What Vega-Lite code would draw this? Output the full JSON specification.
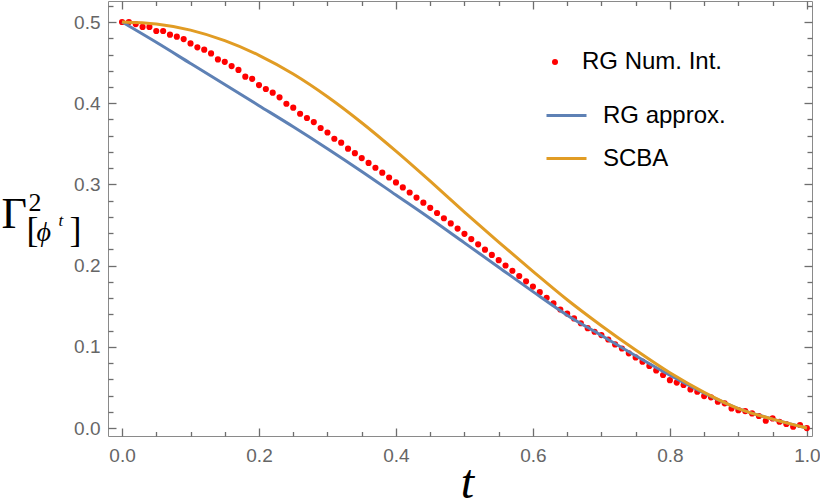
{
  "$schema": "https://vega.github.io/schema/vega-lite/v6.json",
  "width": 704,
  "height": 435,
  "autosize": {"type": "none"},
  "padding": {"left": 108, "top": 1, "right": 8, "bottom": 67},
  "background": "white",
  "config": {
    "view": {"stroke": "#8a8a8a", "strokeWidth": 1},
    "axis": {
      "domain": false,
      "grid": false,
      "ticks": true,
      "tickColor": "#6e6e6e",
      "tickWidth": 1.3,
      "tickOpacity": 1,
      "labelColor": "#666666",
      "labelFont": "Liberation Sans",
      "labelFontSize": 19,
      "titleColor": "black",
      "titleFont": "Liberation Serif",
      "titleFontWeight": "normal",
      "titleAngle": 0,
      "titleAlign": "left",
      "titleBaseline": "alphabetic",
      "zindex": 1
    },
    "legend": {
      "orient": "none",
      "title": null,
      "padding": 0,
      "labelFont": "Liberation Sans",
      "labelFontSize": 24,
      "labelColor": "black",
      "labelLimit": 300
    }
  },
  "datasets": {
    "numint": [
      {"s": "RG Num. Int.", "t": 0.00, "v": 0.5},
      {"s": "RG Num. Int.", "t": 0.01, "v": 0.5},
      {"s": "RG Num. Int.", "t": 0.02, "v": 0.4975},
      {"s": "RG Num. Int.", "t": 0.03, "v": 0.494},
      {"s": "RG Num. Int.", "t": 0.04, "v": 0.494},
      {"s": "RG Num. Int.", "t": 0.05, "v": 0.489},
      {"s": "RG Num. Int.", "t": 0.06, "v": 0.489},
      {"s": "RG Num. Int.", "t": 0.07, "v": 0.4844},
      {"s": "RG Num. Int.", "t": 0.08, "v": 0.482},
      {"s": "RG Num. Int.", "t": 0.09, "v": 0.479},
      {"s": "RG Num. Int.", "t": 0.10, "v": 0.4737},
      {"s": "RG Num. Int.", "t": 0.11, "v": 0.4688},
      {"s": "RG Num. Int.", "t": 0.12, "v": 0.466},
      {"s": "RG Num. Int.", "t": 0.13, "v": 0.4614},
      {"s": "RG Num. Int.", "t": 0.14, "v": 0.454},
      {"s": "RG Num. Int.", "t": 0.15, "v": 0.451},
      {"s": "RG Num. Int.", "t": 0.16, "v": 0.4458},
      {"s": "RG Num. Int.", "t": 0.17, "v": 0.441},
      {"s": "RG Num. Int.", "t": 0.18, "v": 0.4327},
      {"s": "RG Num. Int.", "t": 0.19, "v": 0.430},
      {"s": "RG Num. Int.", "t": 0.20, "v": 0.4224},
      {"s": "RG Num. Int.", "t": 0.21, "v": 0.4175},
      {"s": "RG Num. Int.", "t": 0.22, "v": 0.413},
      {"s": "RG Num. Int.", "t": 0.23, "v": 0.4073},
      {"s": "RG Num. Int.", "t": 0.24, "v": 0.3994},
      {"s": "RG Num. Int.", "t": 0.25, "v": 0.3945},
      {"s": "RG Num. Int.", "t": 0.26, "v": 0.387},
      {"s": "RG Num. Int.", "t": 0.27, "v": 0.3818},
      {"s": "RG Num. Int.", "t": 0.28, "v": 0.3768},
      {"s": "RG Num. Int.", "t": 0.29, "v": 0.3695},
      {"s": "RG Num. Int.", "t": 0.30, "v": 0.364},
      {"s": "RG Num. Int.", "t": 0.31, "v": 0.3563},
      {"s": "RG Num. Int.", "t": 0.32, "v": 0.3514},
      {"s": "RG Num. Int.", "t": 0.33, "v": 0.344},
      {"s": "RG Num. Int.", "t": 0.34, "v": 0.3385},
      {"s": "RG Num. Int.", "t": 0.35, "v": 0.3325},
      {"s": "RG Num. Int.", "t": 0.36, "v": 0.3265},
      {"s": "RG Num. Int.", "t": 0.37, "v": 0.3205},
      {"s": "RG Num. Int.", "t": 0.38, "v": 0.3145},
      {"s": "RG Num. Int.", "t": 0.39, "v": 0.3085},
      {"s": "RG Num. Int.", "t": 0.40, "v": 0.3025},
      {"s": "RG Num. Int.", "t": 0.41, "v": 0.2963},
      {"s": "RG Num. Int.", "t": 0.42, "v": 0.2901},
      {"s": "RG Num. Int.", "t": 0.43, "v": 0.2838},
      {"s": "RG Num. Int.", "t": 0.44, "v": 0.2775},
      {"s": "RG Num. Int.", "t": 0.45, "v": 0.2712},
      {"s": "RG Num. Int.", "t": 0.46, "v": 0.2648},
      {"s": "RG Num. Int.", "t": 0.47, "v": 0.2584},
      {"s": "RG Num. Int.", "t": 0.48, "v": 0.252},
      {"s": "RG Num. Int.", "t": 0.49, "v": 0.2456},
      {"s": "RG Num. Int.", "t": 0.50, "v": 0.2392},
      {"s": "RG Num. Int.", "t": 0.51, "v": 0.2327},
      {"s": "RG Num. Int.", "t": 0.52, "v": 0.2262},
      {"s": "RG Num. Int.", "t": 0.53, "v": 0.2197},
      {"s": "RG Num. Int.", "t": 0.54, "v": 0.2132},
      {"s": "RG Num. Int.", "t": 0.55, "v": 0.2067},
      {"s": "RG Num. Int.", "t": 0.56, "v": 0.2002},
      {"s": "RG Num. Int.", "t": 0.57, "v": 0.1937},
      {"s": "RG Num. Int.", "t": 0.58, "v": 0.1872},
      {"s": "RG Num. Int.", "t": 0.59, "v": 0.1807},
      {"s": "RG Num. Int.", "t": 0.60, "v": 0.1742},
      {"s": "RG Num. Int.", "t": 0.61, "v": 0.1673},
      {"s": "RG Num. Int.", "t": 0.62, "v": 0.1604},
      {"s": "RG Num. Int.", "t": 0.63, "v": 0.1535},
      {"s": "RG Num. Int.", "t": 0.64, "v": 0.146},
      {"s": "RG Num. Int.", "t": 0.65, "v": 0.141},
      {"s": "RG Num. Int.", "t": 0.66, "v": 0.135},
      {"s": "RG Num. Int.", "t": 0.67, "v": 0.129},
      {"s": "RG Num. Int.", "t": 0.68, "v": 0.123},
      {"s": "RG Num. Int.", "t": 0.69, "v": 0.1186},
      {"s": "RG Num. Int.", "t": 0.70, "v": 0.1145},
      {"s": "RG Num. Int.", "t": 0.71, "v": 0.109},
      {"s": "RG Num. Int.", "t": 0.72, "v": 0.103},
      {"s": "RG Num. Int.", "t": 0.73, "v": 0.098},
      {"s": "RG Num. Int.", "t": 0.74, "v": 0.092},
      {"s": "RG Num. Int.", "t": 0.75, "v": 0.087},
      {"s": "RG Num. Int.", "t": 0.76, "v": 0.0817},
      {"s": "RG Num. Int.", "t": 0.77, "v": 0.0764},
      {"s": "RG Num. Int.", "t": 0.78, "v": 0.071},
      {"s": "RG Num. Int.", "t": 0.79, "v": 0.0653},
      {"s": "RG Num. Int.", "t": 0.80, "v": 0.059},
      {"s": "RG Num. Int.", "t": 0.81, "v": 0.056},
      {"s": "RG Num. Int.", "t": 0.82, "v": 0.053},
      {"s": "RG Num. Int.", "t": 0.83, "v": 0.0476},
      {"s": "RG Num. Int.", "t": 0.84, "v": 0.0447},
      {"s": "RG Num. Int.", "t": 0.85, "v": 0.0394},
      {"s": "RG Num. Int.", "t": 0.86, "v": 0.0378},
      {"s": "RG Num. Int.", "t": 0.87, "v": 0.0324},
      {"s": "RG Num. Int.", "t": 0.88, "v": 0.0304},
      {"s": "RG Num. Int.", "t": 0.89, "v": 0.0242},
      {"s": "RG Num. Int.", "t": 0.90, "v": 0.022},
      {"s": "RG Num. Int.", "t": 0.91, "v": 0.0209},
      {"s": "RG Num. Int.", "t": 0.92, "v": 0.018},
      {"s": "RG Num. Int.", "t": 0.93, "v": 0.0148},
      {"s": "RG Num. Int.", "t": 0.94, "v": 0.009},
      {"s": "RG Num. Int.", "t": 0.95, "v": 0.0119},
      {"s": "RG Num. Int.", "t": 0.96, "v": 0.0078},
      {"s": "RG Num. Int.", "t": 0.97, "v": 0.005},
      {"s": "RG Num. Int.", "t": 0.98, "v": 0.0016},
      {"s": "RG Num. Int.", "t": 0.99, "v": 0.0037},
      {"s": "RG Num. Int.", "t": 1.00, "v": 0.0}
    ],
    "curves": [
      {"s": "RG approx.", "t": 0.00, "v": 0.5},
      {"s": "RG approx.", "t": 0.05, "v": 0.475},
      {"s": "RG approx.", "t": 0.10, "v": 0.449},
      {"s": "RG approx.", "t": 0.15, "v": 0.423},
      {"s": "RG approx.", "t": 0.20, "v": 0.397},
      {"s": "RG approx.", "t": 0.25, "v": 0.371},
      {"s": "RG approx.", "t": 0.30, "v": 0.344},
      {"s": "RG approx.", "t": 0.35, "v": 0.316},
      {"s": "RG approx.", "t": 0.40, "v": 0.287},
      {"s": "RG approx.", "t": 0.45, "v": 0.258},
      {"s": "RG approx.", "t": 0.50, "v": 0.228},
      {"s": "RG approx.", "t": 0.55, "v": 0.198},
      {"s": "RG approx.", "t": 0.60, "v": 0.168},
      {"s": "RG approx.", "t": 0.65, "v": 0.139},
      {"s": "RG approx.", "t": 0.70, "v": 0.114},
      {"s": "RG approx.", "t": 0.75, "v": 0.089},
      {"s": "RG approx.", "t": 0.80, "v": 0.065},
      {"s": "RG approx.", "t": 0.85, "v": 0.043},
      {"s": "RG approx.", "t": 0.90, "v": 0.024},
      {"s": "RG approx.", "t": 0.95, "v": 0.011},
      {"s": "RG approx.", "t": 1.00, "v": 0.0},
      {"s": "SCBA", "t": 0.00, "v": 0.5},
      {"s": "SCBA", "t": 0.05, "v": 0.4975},
      {"s": "SCBA", "t": 0.10, "v": 0.490},
      {"s": "SCBA", "t": 0.15, "v": 0.477},
      {"s": "SCBA", "t": 0.20, "v": 0.459},
      {"s": "SCBA", "t": 0.25, "v": 0.436},
      {"s": "SCBA", "t": 0.30, "v": 0.408},
      {"s": "SCBA", "t": 0.35, "v": 0.376},
      {"s": "SCBA", "t": 0.40, "v": 0.341},
      {"s": "SCBA", "t": 0.45, "v": 0.304},
      {"s": "SCBA", "t": 0.50, "v": 0.266},
      {"s": "SCBA", "t": 0.55, "v": 0.229},
      {"s": "SCBA", "t": 0.60, "v": 0.193},
      {"s": "SCBA", "t": 0.65, "v": 0.158},
      {"s": "SCBA", "t": 0.70, "v": 0.126},
      {"s": "SCBA", "t": 0.75, "v": 0.096},
      {"s": "SCBA", "t": 0.80, "v": 0.068},
      {"s": "SCBA", "t": 0.85, "v": 0.044},
      {"s": "SCBA", "t": 0.90, "v": 0.024},
      {"s": "SCBA", "t": 0.95, "v": 0.011},
      {"s": "SCBA", "t": 1.00, "v": 0.0}
    ]
  },
  "layer": [
    {
      "data": {"name": "numint"},
      "mark": {"type": "point", "filled": true, "size": 38, "opacity": 1},
      "encoding": {
        "x": {
          "field": "t", "type": "quantitative",
          "scale": {"domain": [-0.0205, 1.0075], "nice": false, "zero": false},
          "axis": {
            "orient": "bottom", "labels": false, "offset": -4.5, "tickSize": 4.5,
            "values": [0.05, 0.1, 0.15, 0.25, 0.3, 0.35, 0.45, 0.5, 0.55, 0.65, 0.7, 0.75, 0.85, 0.9, 0.95],
            "title": "[", "titleFontSize": 36, "titleX": -82, "titleY": -190.5
          }
        },
        "y": {
          "field": "v", "type": "quantitative",
          "scale": {"domain": [-0.0098, 0.5259], "nice": false, "zero": false},
          "axis": {
            "orient": "left", "labels": false, "offset": -5, "tickSize": 5,
            "values": [0.02, 0.04, 0.06, 0.08, 0.12, 0.14, 0.16, 0.18, 0.22, 0.24, 0.26, 0.28, 0.32, 0.34, 0.36, 0.38, 0.42, 0.44, 0.46, 0.48, 0.52],
            "title": "2", "titleFontSize": 26, "titleX": -85, "titleY": 209
          }
        },
        "color": {
          "field": "s", "type": "nominal",
          "scale": {"domain": ["RG Num. Int."], "range": ["#ff0000"]},
          "legend": {"symbolType": "circle", "symbolSize": 36, "symbolStrokeWidth": 0, "labelOffset": 15, "legendX": 435, "legendY": 49}
        }
      }
    },
    {
      "data": {"name": "curves"},
      "mark": {"type": "line", "strokeWidth": 3, "interpolate": "monotone"},
      "encoding": {
        "x": {
          "field": "t", "type": "quantitative",
          "axis": {
            "orient": "bottom", "offset": -8, "tickSize": 8, "labelPadding": 10, "format": ".1f",
            "values": [0, 0.2, 0.4, 0.6, 0.8, 1],
            "title": "t", "titleFontSize": 48, "titleFontStyle": "italic",
            "titleAlign": "center", "titleX": 359, "titleY": 69
          }
        },
        "y": {
          "field": "v", "type": "quantitative",
          "axis": {
            "orient": "left", "offset": -8, "tickSize": 8, "labelPadding": 8, "format": ".1f",
            "values": [0, 0.1, 0.2, 0.3, 0.4, 0.5],
            "title": "Γ", "titleFontSize": 44, "titleX": -115, "titleY": 226
          }
        },
        "stroke": {
          "field": "s", "type": "nominal",
          "scale": {"domain": ["RG approx.", "SCBA"], "range": ["#5e81b5", "#e19c24"]},
          "legend": {"symbolType": "stroke", "symbolSize": 1600, "symbolStrokeWidth": 3, "labelOffset": 15, "rowPadding": 9, "legendX": 437, "legendY": 93}
        }
      }
    },
    {
      "data": {"name": "numint"},
      "mark": {"type": "point", "opacity": 0},
      "encoding": {
        "x": {
          "field": "t", "type": "quantitative",
          "axis": {
            "orient": "top", "labels": false, "offset": -8, "tickSize": 8,
            "values": [0, 0.2, 0.4, 0.6, 0.8, 1],
            "title": "ϕ", "titleFontSize": 28, "titleFontStyle": "italic", "titleX": -72, "titleY": 231
          }
        },
        "y": {
          "field": "v", "type": "quantitative",
          "axis": {
            "orient": "right", "labels": false, "offset": -8, "tickSize": 8,
            "values": [0, 0.1, 0.2, 0.3, 0.4, 0.5],
            "title": "]", "titleFontSize": 36, "titleX": -735, "titleY": 240
          }
        }
      }
    },
    {
      "data": {"name": "numint"},
      "mark": {"type": "point", "opacity": 0},
      "encoding": {
        "x": {
          "field": "t", "type": "quantitative",
          "axis": {
            "orient": "top", "labels": false, "offset": -4.5, "tickSize": 4.5,
            "values": [0.05, 0.1, 0.15, 0.25, 0.3, 0.35, 0.45, 0.5, 0.55, 0.65, 0.7, 0.75, 0.85, 0.9, 0.95],
            "title": "t", "titleFontSize": 17, "titleFontStyle": "italic", "titleX": -50, "titleY": 219.5
          }
        },
        "y": {
          "field": "v", "type": "quantitative",
          "axis": {
            "orient": "right", "labels": false, "offset": -5, "tickSize": 5, "title": null,
            "values": [0.02, 0.04, 0.06, 0.08, 0.12, 0.14, 0.16, 0.18, 0.22, 0.24, 0.26, 0.28, 0.32, 0.34, 0.36, 0.38, 0.42, 0.44, 0.46, 0.48, 0.52]
          }
        }
      }
    }
  ],
  "resolve": {"axis": {"x": "independent", "y": "independent"}}
}
